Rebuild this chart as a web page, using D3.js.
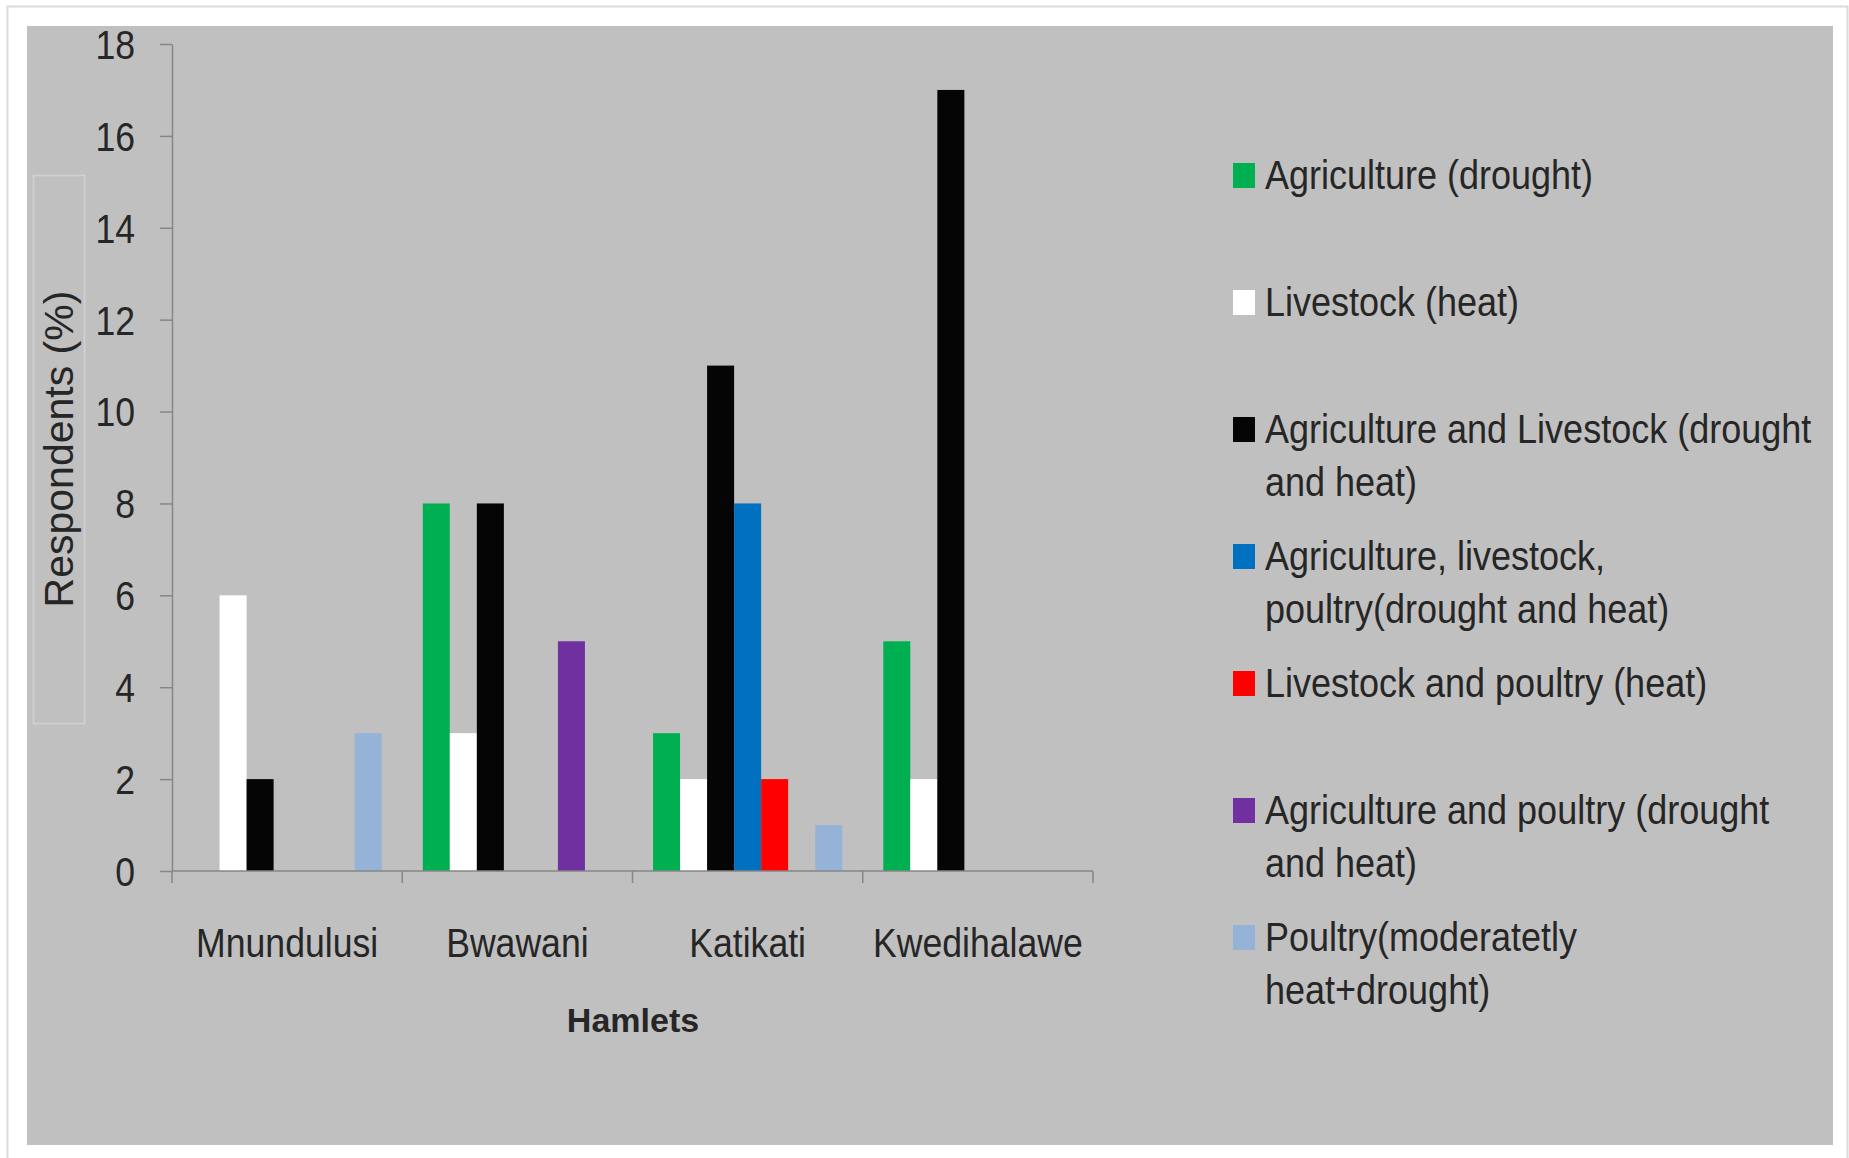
<!DOCTYPE html>
<html lang="en">
<head>
    <meta charset="UTF-8">
    <title>Hamlets</title>
    <script src="https://cdnjs.cloudflare.com/ajax/libs/d3/7.8.5/d3.min.js"></script>
    <style>
        body { margin: 0; background: #fff; }
        text { font-family: "Liberation Sans", Arial, sans-serif; fill: #262626; }
    </style>
</head>
<body>

<script>
    var hamlets = ["Mnundulusi", "Bwawani", "Katikati", "Kwedihalawe"];

    var seriesNames = [
        "Agriculture (drought)",
        "Livestock (heat)",
        "Agriculture and Livestock (drought and heat)",
        "Agriculture, livestock, poultry(drought and heat)",
        "Livestock and poultry (heat)",
        "Agriculture and poultry (drought and heat)",
        "Poultry(moderatetly heat+drought)"
    ];
    // how the legend wraps each name
    var legendLines = [
        ["Agriculture (drought)"],
        ["Livestock (heat)"],
        ["Agriculture and Livestock (drought", "and heat)"],
        ["Agriculture, livestock,", "poultry(drought and heat)"],
        ["Livestock and poultry (heat)"],
        ["Agriculture and poultry (drought", "and heat)"],
        ["Poultry(moderatetly", "heat+drought)"]
    ];
    var seriesColors = ["#00b050", "#ffffff", "#050505", "#0070c0", "#ff0000", "#7030a0", "#95b3d7"];

    // one value per hamlet, in the order of hamlets
    var agriDrought        = [0, 8, 3, 5];
    var livestockHeat      = [6, 3, 2, 2];
    var agriLivestock      = [2, 8, 11, 17];
    var agriLivePoultry    = [0, 0, 8, 0];
    var livePoultry        = [0, 0, 2, 0];
    var agriPoultry        = [0, 5, 0, 0];
    var poultryHeatDrought = [3, 0, 1, 0];
    var seriesValues = [agriDrought, livestockHeat, agriLivestock, agriLivePoultry,
        livePoultry, agriPoultry, poultryHeatDrought];

    var yTicks = [0, 2, 4, 6, 8, 10, 12, 14, 16, 18];

    var width = 1849,
        height = 1158,
        squash = 0.89,     // the source text is narrow, so squeeze it sideways
        legendSquash = 0.9;

    var svg = d3.select("body").append("svg")
            .attr("width", width)
            .attr("height", height);

    // page and chart area
    svg.append("rect").attr("x", 7.5).attr("y", 6.5).attr("width", 1840).attr("height", 1160)
            .attr("fill", "#fff").attr("stroke", "#dadada").attr("stroke-width", 2);
    svg.append("rect").attr("x", 27).attr("y", 26).attr("width", 1806).attr("height", 1119)
            .attr("fill", "#c0c0c0");

    var x0 = d3.scaleBand().domain(hamlets).range([172, 1093]).padding(0);
    var x1 = d3.scaleBand().domain(d3.range(seriesNames.length))
            .range([0, x0.bandwidth()]).paddingInner(0).paddingOuter(0.76);
    var y = d3.scaleLinear().domain([0, 18]).range([871, 44]);

    // bars
    var rows = [];
    hamlets.forEach(function (h, i) {
        seriesValues.forEach(function (vals, s) {
            if (vals[i] > 0) rows.push({hamlet: h, series: s, value: vals[i]});
        });
    });
    svg.append("g").selectAll("rect").data(rows)
            .enter().append("rect")
            .attr("x", function (d) { return x0(d.hamlet) + x1(d.series); })
            .attr("y", function (d) { return y(d.value); })
            .attr("width", x1.bandwidth())
            .attr("height", function (d) { return y(0) - y(d.value); })
            .attr("fill", function (d) { return seriesColors[d.series]; });

    // y axis
    var yAxis = svg.append("g").attr("transform", "translate(172,0)")
            .call(d3.axisLeft(y).tickValues(yTicks).tickSize(12).tickSizeOuter(0));
    yAxis.select(".domain").attr("stroke", "#868686").attr("stroke-width", 1.5);
    yAxis.selectAll(".tick line").attr("stroke", "#868686").attr("stroke-width", 1.5);
    yAxis.selectAll(".tick text")
            .attr("x", -37 / squash).attr("dy", "0.36em")
            .attr("transform", "scale(" + squash + ",1)")
            .style("font-size", "40px").attr("fill", "#262626");

    // x axis: ticks sit on the band edges
    var xg = svg.append("g").attr("transform", "translate(0," + y(0) + ")");
    xg.append("line").attr("x1", 172).attr("x2", 1093)
            .attr("stroke", "#868686").attr("stroke-width", 1.5);
    var edges = hamlets.map(function (h) { return x0(h); }).concat([x0.range()[1]]);
    xg.selectAll("line.edge").data(edges).enter().append("line").attr("class", "edge")
            .attr("x1", function (d) { return d; }).attr("x2", function (d) { return d; })
            .attr("y1", 0).attr("y2", 12)
            .attr("stroke", "#868686").attr("stroke-width", 1.5);
    xg.selectAll("text.cat").data(hamlets).enter().append("text").attr("class", "cat")
            .attr("transform", function (d) {
                return "translate(" + (x0(d) + x0.bandwidth() / 2) + ",86) scale(" + squash + ",1)";
            })
            .attr("text-anchor", "middle")
            .style("font-size", "40px")
            .text(function (d) { return d; });

    // axis titles
    svg.append("text").attr("x", 633).attr("y", 1032).attr("text-anchor", "middle")
            .style("font-size", "34px").style("font-weight", "bold").text("Hamlets");

    svg.append("rect").attr("x", 33.5).attr("y", 175.5).attr("width", 51).attr("height", 548)
            .attr("fill", "none").attr("stroke", "#d2d2d2").attr("stroke-width", 1.5);
    svg.append("text").attr("transform", "translate(73,449) rotate(-90)")
            .attr("text-anchor", "middle").style("font-size", "41px")
            .text("Respondents (%)");

    // legend
    var legend = svg.append("g").selectAll("g").data(legendLines)
            .enter().append("g")
            .attr("transform", function (d, i) { return "translate(1233," + (189 + i * 127) + ")"; });
    legend.append("rect").attr("x", 0).attr("y", -26).attr("width", 22).attr("height", 25)
            .attr("fill", function (d, i) { return seriesColors[i]; });
    legend.each(function (lines) {
        var g = d3.select(this);
        lines.forEach(function (line, k) {
            g.append("text")
                    .attr("transform", "translate(32," + (k * 53) + ") scale(" + legendSquash + ",1)")
                    .style("font-size", "40px")
                    .text(line);
        });
    });
</script>

</body>
</html>
